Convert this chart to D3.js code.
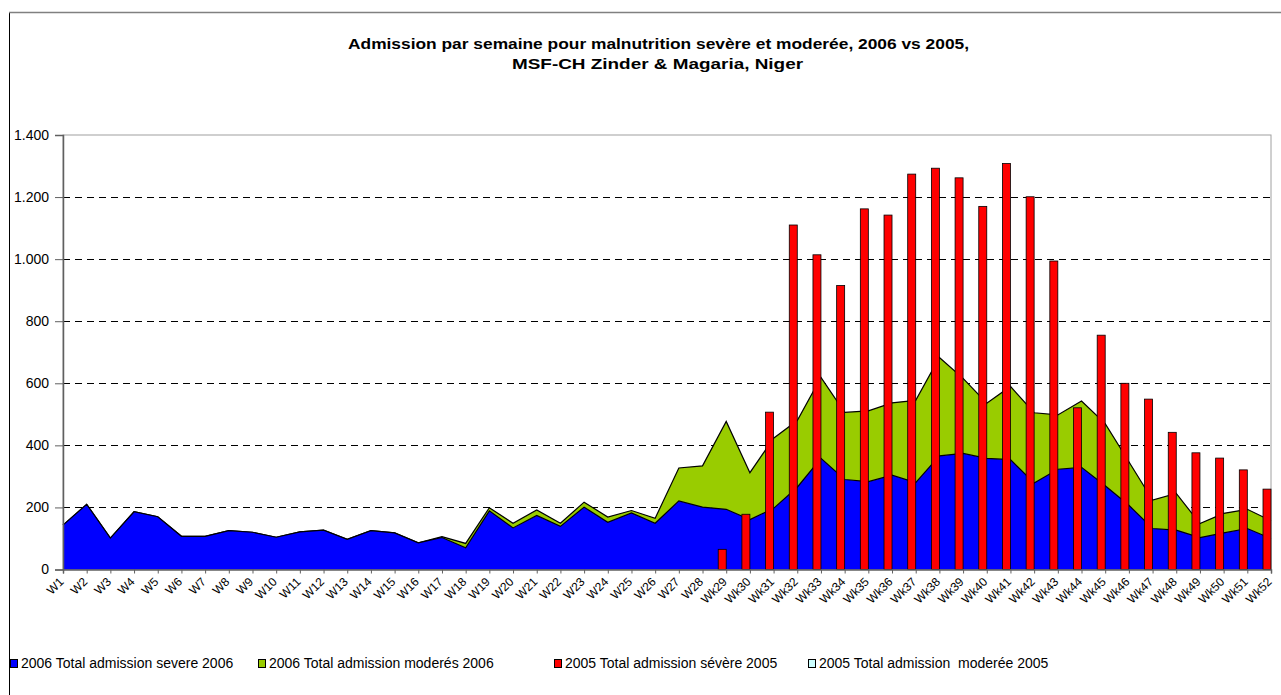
<!DOCTYPE html>
<html>
<head>
<meta charset="utf-8">
<script src="https://cdn.jsdelivr.net/npm/d3@7"></script>
<style>
  html, body { margin: 0; padding: 0; background: #fff; }
  svg { display: block; font-family: "Liberation Sans", Arial, sans-serif; }
</style>
</head>
<body>
<svg id="chart" width="1281" height="695"></svg>
<script>
const categories = [
  "W1","W2","W3","W4","W5","W6","W7","W8","W9","W10","W11","W12","W13","W14","W15","W16","W17","W18",
  "W19","W20","W21","W22","W23","W24","W25","W26","W27","W28",
  "Wk29","Wk30","Wk31","Wk32","Wk33","Wk34","Wk35","Wk36","Wk37","Wk38","Wk39","Wk40",
  "Wk41","Wk42","Wk43","Wk44","Wk45","Wk46","Wk47","Wk48","Wk49","Wk50","Wk51","Wk52"
];
const severe2006 = [
  143,210,101,186,170,107,107,125,120,104,121,127,97,125,118,86,103,70,
  189,134,174,139,201,152,182,149,221,201,
  194,161,197,265,358,290,283,304,280,366,374,358,
  354,279,323,329,270,207,132,127,103,118,132,100
];
const moderate2006 = [
  0,0,0,0,0,0,0,0,0,0,0,0,0,0,0,0,3,14,
  10,15,18,10,16,17,8,16,106,133,
  283,151,226,215,261,216,228,233,265,317,242,178,
  236,226,175,214,200,140,92,118,45,63,62,57
];
const severe2005 = [
  0,0,0,0,0,0,0,0,0,0,0,0,0,0,0,0,0,0,
  0,0,0,0,0,0,0,0,0,0,
  65,178,507,1110,1014,915,1162,1142,1274,1293,1262,1170,
  1308,1201,994,521,755,600,549,442,376,359,321,259
];
const moderate2005 = categories.map(() => 0);
const yTicks = [0,200,400,600,800,1000,1200,1400];
const legendLabels = [
  "2006 Total admission severe 2006",
  "2006 Total admission moderés 2006",
  "2005 Total admission sévère 2005",
  "2005 Total admission  moderée 2005"
];
const colors = ["#0000FF", "#99CC00", "#FF0000", "#CCFFFF"];

const svg = d3.select("#chart");
const L = 63, R = 1271, T = 135, B = 569.5;

// outer chart border
svg.append("rect").attr("x", 9.5).attr("y", 12.5).attr("width", 1290).attr("height", 700)
  .attr("fill", "none").attr("stroke", "#000").attr("stroke-width", 1);
svg.append("line").attr("x1", 9).attr("x2", 1281).attr("y1", 12.5).attr("y2", 12.5)
  .attr("stroke", "#808080").attr("stroke-width", 1.5);

// title
const title = svg.append("g").attr("font-weight", "bold").attr("font-size", 15).attr("fill", "#000");
title.append("text").attr("x", 348).attr("y", 49).attr("textLength", 621)
  .attr("lengthAdjust", "spacingAndGlyphs")
  .text("Admission par semaine pour malnutrition sevère et moderée, 2006 vs 2005,");
title.append("text").attr("x", 512).attr("y", 69).attr("textLength", 291)
  .attr("lengthAdjust", "spacingAndGlyphs")
  .text("MSF-CH Zinder & Magaria, Niger");

const x = d3.scalePoint().domain(categories).range([L, R]);
const y = d3.scaleLinear().domain([0, 1400]).range([B, T]);

// plot border (top/right light gray)
svg.append("rect").attr("x", L).attr("y", T).attr("width", R - L).attr("height", B - T)
  .attr("fill", "none").attr("stroke", "#a0a0a0").attr("stroke-width", 1);

// gridlines
svg.append("g").selectAll("line").data(yTicks.filter(d => d > 0 && d < 1400)).join("line")
  .attr("x1", L).attr("x2", R)
  .attr("y1", d => Math.round(y(d)) + 0.5).attr("y2", d => Math.round(y(d)) + 0.5)
  .attr("stroke", "#000").attr("stroke-width", 1).attr("stroke-dasharray", "7,5");

// stacked areas
const stackData = categories.map((c, i) => ({cat: c, s: severe2006[i], m: moderate2006[i]}));
const stack = d3.stack().keys(["s", "m"]);
const series = stack(stackData);
const area = d3.area().x(d => x(d.data.cat)).y0(d => y(d[0])).y1(d => y(d[1]));
const topLine = d3.line().x(d => x(d.data.cat)).y(d => y(d[1]));

svg.append("path").datum(series[1]).attr("d", area).attr("fill", colors[1]);
svg.append("path").datum(series[1]).attr("d", topLine).attr("fill", "none")
  .attr("stroke", "#000").attr("stroke-width", 1.2);
svg.append("path").datum(series[0]).attr("d", area).attr("fill", colors[0]);
svg.append("path").datum(series[0]).attr("d", topLine).attr("fill", "none")
  .attr("stroke", "#000").attr("stroke-width", 1.2);

// bars 2005
const bw = 8;
svg.append("g").selectAll("rect").data(categories.map((c, i) => ({c, v: severe2005[i]})).filter(d => d.v > 0))
  .join("rect")
  .attr("x", d => x(d.c) - bw).attr("width", bw)
  .attr("y", d => y(d.v)).attr("height", d => y(0) - y(d.v))
  .attr("fill", colors[2]).attr("stroke", "#000").attr("stroke-width", 0.8);
svg.append("g").selectAll("rect").data(categories.map((c, i) => ({c, v: moderate2005[i]})).filter(d => d.v > 0))
  .join("rect")
  .attr("x", d => x(d.c)).attr("width", bw)
  .attr("y", d => y(d.v)).attr("height", d => y(0) - y(d.v))
  .attr("fill", colors[3]).attr("stroke", "#000").attr("stroke-width", 0.8);

// y axis
const fmt = d => d3.format(",")(d).replace(/,/g, ".");
const yAxis = svg.append("g").attr("transform", `translate(${L},0)`)
  .call(d3.axisLeft(y).tickValues(yTicks).tickFormat(fmt).tickSize(8).tickPadding(6));
yAxis.select(".domain").attr("stroke", "#606060").attr("stroke-width", 1.5);
yAxis.selectAll(".tick line").attr("stroke", "#606060");
yAxis.selectAll(".tick text").attr("font-size", 14).attr("fill", "#000")
  .attr("font-family", "Liberation Sans, Arial, sans-serif");

// x axis
const xAxis = svg.append("g").attr("transform", `translate(0,${B})`)
  .call(d3.axisBottom(x).tickSize(4).tickPadding(4));
xAxis.select(".domain").attr("stroke", "#606060").attr("stroke-width", 1.5);
xAxis.selectAll(".tick line").attr("stroke", "#606060");
xAxis.selectAll(".tick text").attr("font-size", 12).attr("fill", "#000")
  .attr("font-family", "Liberation Sans, Arial, sans-serif")
  .attr("text-anchor", "end")
  .attr("y", 0).attr("dy", 0)
  .attr("transform", "translate(1,13) rotate(-45)");

// legend
const legendX = [10, 258, 554, 808];
const lg = svg.append("g");
legendLabels.forEach((t, i) => {
  lg.append("rect").attr("x", legendX[i] + 0.5).attr("y", 659.5).attr("width", 7).attr("height", 8)
    .attr("fill", colors[i]).attr("stroke", "#000").attr("stroke-width", 1);
  lg.append("text").attr("x", legendX[i] + 11).attr("y", 668)
    .attr("font-size", 14).attr("fill", "#000").attr("xml:space", "preserve").text(t);
});
</script>
</body>
</html>
